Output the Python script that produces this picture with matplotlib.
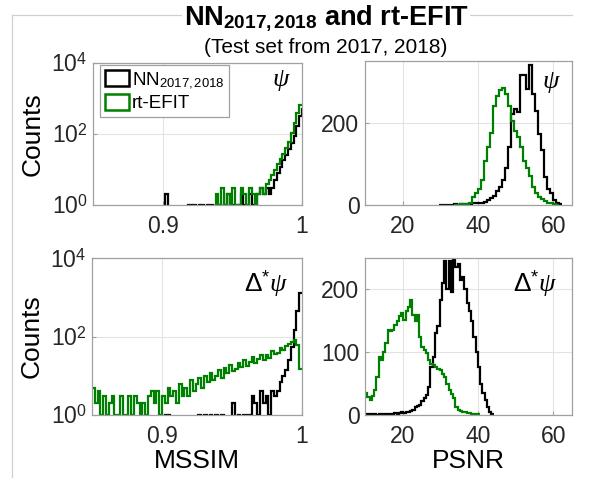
import numpy as np
import matplotlib
matplotlib.use("Agg")
import matplotlib.pyplot as plt
from matplotlib.patches import Rectangle
from matplotlib.lines import Line2D

plt.rcParams['font.family'] = ['Liberation Sans', 'DejaVu Sans']
plt.rcParams['mathtext.fontset'] = 'custom'
plt.rcParams['mathtext.rm'] = 'Liberation Sans'
plt.rcParams['mathtext.bf'] = 'Liberation Sans:bold'
plt.rcParams['mathtext.it'] = 'Liberation Serif:italic'
plt.rcParams['mathtext.sf'] = 'Liberation Sans'

# ---------------- data ----------------
mssim_start = 0.85
mssim_width = 0.002

# MSSIM, psi (75 bins from 0.85)
mssim_psi_nn = [0]*26 + [2] + [0]*7 + [1, 0, 1, 0, 1, 1, 0, 1,
                1, 0, 1, 1, 0, 1, 2, 1, 1, 0, 1, 2, 1, 1, 2, 1, 1,
                2, 3, 2, 3, 2, 3, 5, 8, 12, 18, 26, 38, 55, 90, 170, 330, 500, 900]
mssim_psi_efit = [0]*44 + [2, 1, 3, 1, 2, 1, 3, 1, 1, 3, 2, 1, 3, 2, 1, 2,
                  3, 2, 4, 5, 7, 10, 14, 20, 28, 40, 60, 110, 200, 380, 650]

# MSSIM, Delta* psi
mssim_dpsi_nn = ([0]*26 + [1, 1] + [0]*10 + [1, 0, 1, 0, 1, 0, 1, 0, 1, 0, 0, 0, 2, 0,
                 1, 0, 1, 1, 1, 3, 2, 1, 4, 2, 3, 1, 4, 3, 4, 7, 10, 14, 25, 55,
                 150, 450, 1250])
mssim_dpsi_efit = [5, 2, 4, 1, 3, 1, 2, 3, 1, 1, 3, 1, 1, 3, 1, 3, 2, 1, 2, 1,
                   3, 4, 2, 4, 1, 3, 2, 5, 3, 4, 2, 6, 3, 5, 3, 8, 4, 6,
                   9, 5, 10, 7, 12, 8, 10, 14, 9, 16, 12, 19, 13, 15, 21, 17,
                   25, 18, 22, 30, 21, 26, 34, 25, 33, 29, 42, 35, 38, 50, 44,
                   58, 66, 74, 80, 60, 15]

# PSNR, psi (bins of 0.8 dB)
psnr_width_psi = 0.8
psnr_psi_nn_start = 29.6
psnr_psi_nn = [1, 1, 0, 1, 1, 2, 1, 2, 2, 3, 3, 4, 4, 5, 6, 8, 11, 16, 22, 33,
               44, 60, 90, 140, 221, 233, 225, 317, 317, 281, 341, 269, 229,
               173, 133, 68, 40, 28, 12, 5, 2]
psnr_psi_efit_start = 33.6
psnr_psi_efit = [1, 1, 2, 2, 3, 4, 20, 30, 40, 60, 108, 140, 176, 240, 265,
                 280, 284, 270, 240, 204, 180, 165, 140, 108, 90, 70, 44, 30,
                 20, 14, 9, 6, 4, 3, 1]

# PSNR, Delta* psi (bins of 0.6 dB)
psnr_width_dpsi = 0.6
psnr_dpsi_nn_start = 10.0
psnr_dpsi_nn = [0, 1, 0, 1, 1, 0, 1, 1, 1, 2, 1, 2, 2, 3, 2, 3, 4, 3, 5, 5,
                6, 8, 12, 14, 16, 22, 27, 32, 45, 77, 93, 130, 141, 183, 210,
                245, 200, 245, 196, 247, 236, 240, 215, 220, 200, 178, 165,
                150, 125, 100, 77, 50, 35, 24, 12, 5, 1]
psnr_dpsi_efit_start = 10.0
psnr_dpsi_efit = [35, 29, 24, 30, 40, 61, 93, 88, 100, 114, 135, 133, 135, 143,
                  150, 157, 162, 151, 165, 172, 183, 159, 149, 159, 125, 109,
                  104, 98, 88, 82, 80, 77, 74, 72, 65, 61, 50, 40, 33, 27, 12,
                  8, 6, 5, 4, 3, 3, 2, 2, 1, 1]

nn_label = 'NN$_{\\mathrm{2017,2018}}$'
efit_label = 'rt-EFIT'
green = '#008000'
W, H = 590, 478

fig = plt.figure(figsize=(W/100, H/100), dpi=100)

def ax_at(x0, y0, x1, y1):
    return fig.add_axes([x0/W, 1 - y1/H, (x1-x0)/W, (y1-y0)/H])

ax_tl = ax_at(93, 63, 302, 205)
ax_tr = ax_at(365, 61, 572, 205)
ax_bl = ax_at(92, 258, 302, 415)
ax_br = ax_at(365, 258, 572, 415)

def edges_for(start, width, n):
    return start + width*np.arange(n+1)

def draw(ax, start, width, counts, color, log):
    c = np.asarray(counts, dtype=float)
    if log:
        # empty bins fall below the visible range, like MATLAB's log axes
        c = np.where(c > 0, c, 1e-3)
    ax.stairs(c, edges_for(start, width, len(counts)), baseline=None,
              color=color, lw=1.6)

# MSSIM panels
for ax, nn, ef in [(ax_tl, mssim_psi_nn, mssim_psi_efit),
                   (ax_bl, mssim_dpsi_nn, mssim_dpsi_efit)]:
    ax.set_yscale('log')
    draw(ax, mssim_start, mssim_width, nn, 'black', True)
    draw(ax, mssim_start, mssim_width, ef, green, True)
    ax.set_xlim(0.85, 1.0)
    ax.set_ylim(1, 1e4)
    ax.set_xticks([0.9, 1.0])
    ax.set_xticklabels(['0.9', '1'])
    ax.set_yticks([1, 1e2, 1e4])
    ax.set_yticklabels(['10$^0$', '10$^2$', '10$^4$'])
    ax.minorticks_off()
    ax.set_ylabel('Counts', fontsize=19, labelpad=5)

draw(ax_tr, psnr_psi_nn_start, psnr_width_psi, psnr_psi_nn, 'black', False)
draw(ax_tr, psnr_psi_efit_start, psnr_width_psi, psnr_psi_efit, green, False)
ax_tr.set_ylim(0, 350)
ax_tr.set_yticks([0, 200])

draw(ax_br, psnr_dpsi_nn_start, psnr_width_dpsi, psnr_dpsi_nn, 'black', False)
draw(ax_br, psnr_dpsi_efit_start, psnr_width_dpsi, psnr_dpsi_efit, green, False)
ax_br.set_ylim(0, 250)
ax_br.set_yticks([0, 100, 200])

for ax in (ax_tr, ax_br):
    ax.set_xlim(10, 65)
    ax.set_xticks([20, 40, 60])

for ax in (ax_tl, ax_tr, ax_bl, ax_br):
    ax.grid(True, color='#e3e3e3', lw=0.8)
    ax.set_axisbelow(True)
    for s in ax.spines.values():
        s.set_color('#a0a0a0')
        s.set_linewidth(0.9)
    ax.tick_params(direction='in', length=3, width=0.8, color='#a0a0a0',
                   labelsize=16.5, labelcolor='#262626')
    ax.tick_params(axis='x', pad=7)
    ax.tick_params(axis='y', pad=4)

ax_bl.set_xlabel('MSSIM', fontsize=19, labelpad=1)
ax_br.set_xlabel('PSNR', fontsize=19, labelpad=1)

# panel annotations
psi_kw = dict(fontsize=19, ha='center', va='center', color='black')
ax_tl.text(0.9, 0.88, '$\\psi$', transform=ax_tl.transAxes, **psi_kw)
ax_tr.text(0.9, 0.85, '$\\psi$', transform=ax_tr.transAxes, **psi_kw)
ax_bl.text(0.83, 0.84, '$\\Delta^{*}\\psi$', transform=ax_bl.transAxes, **psi_kw)
ax_br.text(0.82, 0.84, '$\\Delta^{*}\\psi$', transform=ax_br.transAxes, **psi_kw)

# legend
handles = [Rectangle((0, 0), 1, 1, facecolor='white', edgecolor='black', lw=1.8),
           Rectangle((0, 0), 1, 1, facecolor='white', edgecolor=green, lw=1.8)]
leg = fig.legend(handles, [nn_label, efit_label], loc='upper left',
                 bbox_to_anchor=(100/W, 1 - 65/H), fontsize=13.5,
                 handlelength=1.3, handleheight=1.0, handletextpad=0.15,
                 borderpad=0.25, labelspacing=0.15, borderaxespad=0,
                 fancybox=False, framealpha=1, edgecolor='#a0a0a0')
leg.get_frame().set_linewidth(0.9)

# outer frame lines
fig.add_artist(Line2D([12/W, 12/W], [0, 1 - 15/H], color='#d0d0d0', lw=0.9,
                      transform=fig.transFigure))
fig.add_artist(Line2D([12/W, 572/W], [1 - 15/H, 1 - 15/H], color='#d0d0d0',
                      lw=0.9, transform=fig.transFigure))

# titles
fig.text(326/W, 1 - 19/H, 'NN$_{\\mathbf{2017,2018}}$ and rt-EFIT',
         fontsize=19.5, fontweight='bold', ha='center', va='center',
         bbox=dict(facecolor='white', edgecolor='none', pad=1))
fig.text(326/W, 1 - 47/H, '(Test set from 2017, 2018)', fontsize=15,
         ha='center', va='center')

fig.savefig('out.png', dpi=100)
